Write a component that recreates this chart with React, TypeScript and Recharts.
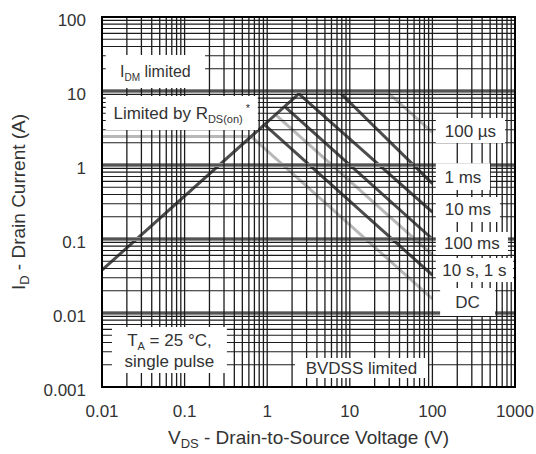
import React from 'react';
import { ComposedChart, Line, XAxis, YAxis, ReferenceArea, ReferenceLine } from 'recharts';

const xTicks = [0.01, 0.1, 1, 10, 100, 1000];
const yTicks = [0.001, 0.01, 0.1, 1, 10, 100];
const multipliers = [1, 2, 3, 4, 5, 6, 7, 8, 9];
const xDecades = [0.01, 0.1, 1, 10, 100];
const yDecades = [0.001, 0.01, 0.1, 1, 10];
const xGrid = xDecades.flatMap((d) => multipliers.map((m) => +(m * d).toPrecision(3))).concat([1000]);
const yGrid = yDecades.flatMap((d) => multipliers.map((m) => +(m * d).toPrecision(3))).concat([100]);
const yBands = [0.01, 0.1, 1, 10];

// V (volts), I (amps)
const rdsLimit = [{ v: 0.01, i: 0.038 }, { v: 2.5, i: 9.5 }];
const rdsMarker = [{ v: 0.01, i: 2.43 }, { v: 0.64, i: 2.43 }];
const pulse100us = [{ v: 2.5, i: 9.5 }, { v: 29, i: 9.5 }, { v: 100, i: 2.75 }];
const pulse1ms = [{ v: 2.5, i: 9.5 }, { v: 7.6, i: 9.5 }, { v: 100, i: 0.56 }];
const pulse10ms = [{ v: 2.4, i: 9.2 }, { v: 100, i: 0.23 }];
const pulse100ms = [{ v: 1.62, i: 6.2 }, { v: 100, i: 0.1 }];
const pulse10s = [{ v: 1.26, i: 4.8 }, { v: 100, i: 0.061 }];
const pulse1s = [{ v: 0.925, i: 3.5 }, { v: 100, i: 0.0325 }];
const dcLine = [{ v: 0.64, i: 2.43 }, { v: 100, i: 0.0155 }];

const labelBoxes = [
  { key: 'idm', x1: 0.0111, x2: 0.177, y1: 11, y2: 30.6 },
  { key: 'rds', x1: 0.0111, x2: 0.77, y1: 2.97, y2: 8.55 },
  { key: 'ta', x1: 0.0132, x2: 0.325, y1: 0.00155, y2: 0.00647 },
  { key: 'bv', x1: 2.17, x2: 88, y1: 0.00132, y2: 0.00247 },
  { key: '100us', x1: 110, x2: 757, y1: 1.98, y2: 4.32 },
  { key: '1ms', x1: 110, x2: 498, y1: 0.46, y2: 1.06 },
  { key: '10ms', x1: 110, x2: 657, y1: 0.17, y2: 0.37 },
  { key: '100ms', x1: 110, x2: 822, y1: 0.061, y2: 0.124 },
  { key: '10s', x1: 110, x2: 946, y1: 0.0262, y2: 0.0553 },
  { key: 'dc', x1: 124, x2: 573, y1: 0.0091, y2: 0.0218 },
];

const FONT = '"Liberation Sans", Arial, sans-serif';
const TXT = '#333';
const DARK = '#4d4d4d';
const LIGHT = '#b8b8b8';
const GRID = '#1c1c1c';

const fmt = (v: number) => String(v);

function BoxText(props: any) {
  const { viewBox, kind } = props;
  if (!viewBox) return null;
  const cx = viewBox.x + viewBox.width / 2;
  const cy = viewBox.y + viewBox.height / 2;
  const common = { fontFamily: FONT, fontSize: 17, fill: TXT, textAnchor: 'middle' as const };
  const one = (t: string) => (
    <text {...common} x={cx} y={cy + 6}>
      {t}
    </text>
  );
  switch (kind) {
    case 'idm':
      return (
        <text {...common} fontSize={16} x={cx} y={cy + 6}>
          I<tspan fontSize={10} dy={4}>DM</tspan>
          <tspan dy={-4}> limited</tspan>
        </text>
      );
    case 'rds':
      return (
        <text {...common} x={cx} y={cy + 6}>
          Limited by R<tspan fontSize={11} dy={4}>DS(on)</tspan>
          <tspan fontSize={11} dy={-11}> *</tspan>
        </text>
      );
    case 'ta':
      return (
        <g>
          <text {...common} x={cx} y={cy - 4}>
            T<tspan fontSize={11} dy={4}>A</tspan>
            <tspan dy={-4}> = 25 °C,</tspan>
          </text>
          <text {...common} x={cx} y={cy + 17}>single pulse</text>
        </g>
      );
    case 'bv':
      return one('BVDSS limited');
    case '100us':
      return one('100 µs');
    case '1ms':
      return one('1 ms');
    case '10ms':
      return one('10 ms');
    case '100ms':
      return one('100 ms');
    case '10s':
      return one('10 s, 1 s');
    case 'dc':
      return one('DC');
    default:
      return null;
  }
}

function XTitle(props: any) {
  const { viewBox } = props;
  const cx = viewBox.x + viewBox.width / 2;
  return (
    <text x={cx} y={viewBox.y + 57} textAnchor="middle" fontFamily={FONT} fontSize={19} fill={TXT}>
      V<tspan fontSize={13} dy={4}>DS</tspan>
      <tspan dy={-4}> - Drain-to-Source Voltage (V)</tspan>
    </text>
  );
}

function YTitle(props: any) {
  const { viewBox } = props;
  const cy = viewBox.y + viewBox.height / 2;
  const x = 25;
  return (
    <text
      x={x}
      y={cy}
      textAnchor="middle"
      fontFamily={FONT}
      fontSize={19}
      fill={TXT}
      transform={`rotate(-90 ${x} ${cy})`}
    >
      I<tspan fontSize={13} dy={4}>D</tspan>
      <tspan dy={-4}> - Drain Current (A)</tspan>
    </text>
  );
}

export default function App() {
  return (
    <div style={{ position: 'absolute', left: 0, top: 0, width: 536, height: 454, background: '#fff' }}>
      <ComposedChart
        width={536}
        height={454}
        margin={{ top: 17, right: 21, left: 0, bottom: 0 }}
        style={{ overflow: 'visible' }}
      >
        <XAxis
          dataKey="v"
          type="number"
          scale="log"
          domain={[0.01, 1000]}
          ticks={xTicks}
          tickFormatter={fmt}
          allowDataOverflow
          height={67}
          tickLine={false}
          tickSize={0}
          tick={{ fontFamily: FONT, fontSize: 17, fill: TXT, dy: 16 }}
          axisLine={{ stroke: '#000', strokeWidth: 2 }}
          label={<XTitle />}
        />
        <YAxis
          dataKey="i"
          type="number"
          scale="log"
          domain={[0.001, 100]}
          ticks={yTicks}
          tickFormatter={fmt}
          allowDataOverflow
          width={102}
          tickLine={false}
          tickSize={0}
          tick={{ fontFamily: FONT, fontSize: 17, fill: TXT, dx: -14, dy: 3 }}
          axisLine={{ stroke: '#000', strokeWidth: 2 }}
          label={<YTitle />}
        />
        {yBands.map((v) => (
          <ReferenceLine key={'band' + v} y={v} stroke="#8c8c8c" strokeWidth={4} ifOverflow="visible" zIndex={450} />
        ))}
        {xGrid.map((v) => (
          <ReferenceLine key={'gx' + v} x={v} stroke={GRID} strokeWidth={1.3} ifOverflow="visible" zIndex={500} />
        ))}
        {yGrid.map((v) => (
          <ReferenceLine key={'gy' + v} y={v} stroke={GRID} strokeWidth={1.1} ifOverflow="visible" zIndex={500} />
        ))}
        <Line data={rdsMarker} dataKey="i" stroke={LIGHT} strokeWidth={3} dot={false} isAnimationActive={false} />
        <Line data={dcLine} dataKey="i" stroke={LIGHT} strokeWidth={3} dot={false} isAnimationActive={false} />
        <Line data={pulse1s} dataKey="i" stroke={DARK} strokeWidth={3} dot={false} isAnimationActive={false} />
        <Line data={pulse10s} dataKey="i" stroke={LIGHT} strokeWidth={3} dot={false} isAnimationActive={false} />
        <Line data={pulse100ms} dataKey="i" stroke={DARK} strokeWidth={3} dot={false} isAnimationActive={false} />
        <Line data={pulse10ms} dataKey="i" stroke={DARK} strokeWidth={3} dot={false} isAnimationActive={false} />
        <Line data={pulse1ms} dataKey="i" stroke={DARK} strokeWidth={3} dot={false} isAnimationActive={false} />
        <Line data={pulse100us} dataKey="i" stroke={LIGHT} strokeWidth={3} dot={false} isAnimationActive={false} />
        <Line data={rdsLimit} dataKey="i" stroke={DARK} strokeWidth={3} dot={false} isAnimationActive={false} />
        {labelBoxes.map((b) => (
          <ReferenceArea
            key={b.key}
            x1={b.x1}
            x2={b.x2}
            y1={b.y1}
            y2={b.y2}
            fill="#fff"
            fillOpacity={1}
            stroke="none"
            ifOverflow="visible"
            zIndex={600}
            label={<BoxText kind={b.key} />}
          />
        ))}
        <ReferenceArea
          x1={0.01}
          x2={1000}
          y1={0.001}
          y2={100}
          fill="none"
          stroke="#000"
          strokeWidth={2}
          ifOverflow="visible"
          zIndex={700}
        />
      </ComposedChart>
    </div>
  );
}
